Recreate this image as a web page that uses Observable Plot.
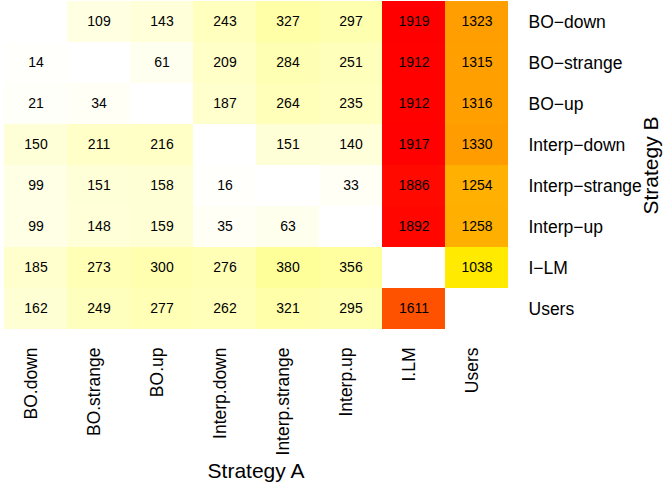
<!DOCTYPE html>
<html><head><meta charset="utf-8">
<script src="https://cdn.jsdelivr.net/npm/d3@7"></script>
<script src="https://cdn.jsdelivr.net/npm/@observablehq/plot@0.6"></script>
<style>body{margin:0;background:#fff;}</style>
</head><body><div id="chart"></div>
<script>
const strategyA = ["BO.down","BO.strange","BO.up","Interp.down","Interp.strange","Interp.up","I.LM","Users"];
const strategyB = ["BO−down","BO−strange","BO−up","Interp−down","Interp−strange","Interp−up","I−LM","Users"];
const rowBOdown        = [null,109,143,243,327,297,1919,1323];
const rowBOstrange     = [14,null,61,209,284,251,1912,1315];
const rowBOup          = [21,34,null,187,264,235,1912,1316];
const rowInterpDown    = [150,211,216,null,151,140,1917,1330];
const rowInterpStrange = [99,151,158,16,null,33,1886,1254];
const rowInterpUp      = [99,148,159,35,63,null,1892,1258];
const rowILM           = [185,273,300,276,380,356,null,1038];
const rowUsers         = [162,249,277,262,321,295,1611,null];
const rows = [rowBOdown,rowBOstrange,rowBOup,rowInterpDown,rowInterpStrange,rowInterpUp,rowILM,rowUsers];

const data = [];
rows.forEach((r, i) => r.forEach((v, j) => { if (v != null) data.push({a: strategyA[j], b: strategyB[i], v}); }));

const yellowAt = 958 / 1919;
const heat = t => t < yellowAt
  ? d3.interpolateRgb("#ffffff", "#ffff00")(t / yellowAt)
  : d3.interpolateHsl("#ffff00", "#ff0000")((t - yellowAt) / (1 - yellowAt));

const chart = Plot.plot({
  width: 664,
  height: 487,
  marginLeft: 0,
  marginTop: 0,
  marginRight: 153,
  marginBottom: 157,
  style: {fontFamily: "'Liberation Sans', Arial, Helvetica, sans-serif", background: "#fff"},
  x: {domain: strategyA, padding: 0},
  y: {domain: strategyB, padding: 0},
  color: {type: "linear", domain: [0, 1919], interpolate: heat},
  marks: [
    Plot.cell(data, {x: "a", y: "b", fill: "v", inset: 0, shapeRendering: "crispEdges"}),
    Plot.text(data, {x: "a", y: "b", text: d => String(d.v), fontSize: 14, fill: "black"}),
    Plot.axisX({anchor: "bottom", tickRotate: -90, tickSize: 0, tickPadding: 17, fontSize: 17.5, label: null, dx: -5}),
    Plot.axisY({anchor: "right", tickSize: 0, tickPadding: 17, fontSize: 17.5, label: null}),
    Plot.text(["Strategy A"], {frameAnchor: "bottom", textAnchor: "middle", lineAnchor: "bottom", dy: 147, fontSize: 21}),
    Plot.text(["Strategy B"], {frameAnchor: "right", textAnchor: "middle", rotate: -90, lineAnchor: "bottom", dx: 146, fontSize: 21})
  ]
});
document.getElementById("chart").append(chart);
</script>
</body></html>
